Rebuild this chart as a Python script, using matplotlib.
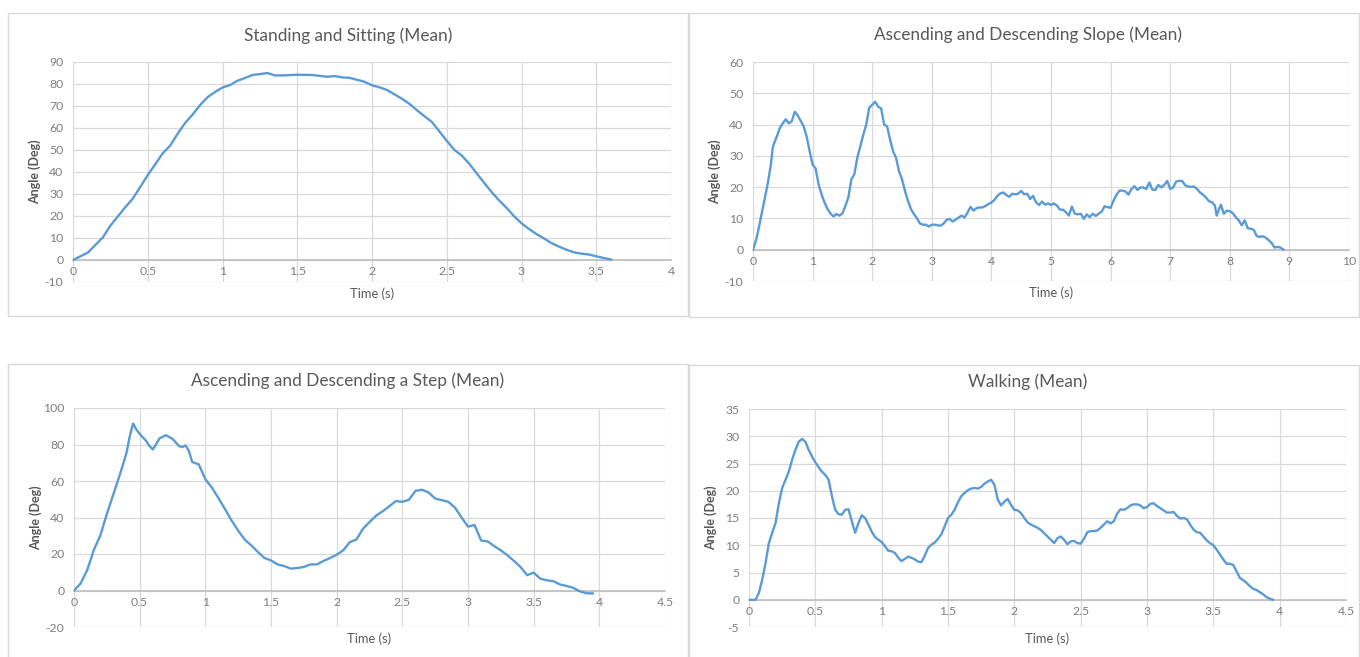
import matplotlib
matplotlib.use("Agg")
import matplotlib.pyplot as plt
from matplotlib.patches import Rectangle

plt.rcParams['font.family'] = ['Lato', 'DejaVu Sans']

# ---- Standing and Sitting ----
sit_t = [0, 0.1, 0.2, 0.25, 0.3, 0.35, 0.4, 0.45, 0.5, 0.55, 0.6, 0.65, 0.7, 0.75, 0.8,
         0.85, 0.9, 0.95, 1.0, 1.05, 1.1, 1.15, 1.2, 1.25, 1.3, 1.35, 1.4, 1.5, 1.6, 1.7,
         1.75, 1.8, 1.85, 1.9, 1.95, 2.0, 2.05, 2.1, 2.15, 2.2, 2.25, 2.3, 2.35, 2.4, 2.45,
         2.5, 2.55, 2.6, 2.65, 2.7, 2.75, 2.8, 2.85, 2.9, 2.95, 3.0, 3.05, 3.1, 3.15, 3.2,
         3.25, 3.3, 3.35, 3.4, 3.45, 3.5, 3.55, 3.6]
sit_deg = [0, 3.4, 10.3, 15.6, 19.8, 24.0, 27.9, 33.2, 38.6, 43.5, 48.5, 52.0, 57.4, 62.3, 66.1,
           70.4, 74.0, 76.4, 78.4, 79.5, 81.5, 82.7, 84.1, 84.5, 85.0, 83.9, 83.9, 84.2, 84.1, 83.3,
           83.6, 83.0, 82.8, 81.9, 81.0, 79.4, 78.5, 77.3, 75.3, 73.3, 71.0, 68.1, 65.4, 62.8, 58.5,
           54.2, 50.1, 47.5, 43.8, 39.4, 35.1, 30.9, 27.1, 23.7, 19.9, 16.7, 14.1, 11.8, 9.8, 7.7,
           6.1, 4.7, 3.5, 2.9, 2.5, 1.7, 0.9, 0.2]

# ---- Ascending and Descending Slope ----
slope_t = [0, 0.05, 0.1, 0.15, 0.2, 0.25, 0.3, 0.33, 0.35, 0.4, 0.45, 0.5, 0.55, 0.6, 0.65,
           0.7, 0.75, 0.8, 0.85, 0.9, 0.95, 1.0, 1.05, 1.1, 1.15, 1.2, 1.25, 1.3, 1.35, 1.4,
           1.45, 1.5, 1.55, 1.6, 1.65, 1.7, 1.75, 1.8, 1.85, 1.9, 1.95, 2.0, 2.05, 2.1, 2.15,
           2.2, 2.25, 2.3, 2.35, 2.4, 2.45, 2.5, 2.55, 2.6, 2.65, 2.7, 2.75, 2.8, 2.85, 2.9,
           2.95, 3.0, 3.05, 3.1, 3.15, 3.2, 3.25, 3.3, 3.35, 3.4, 3.45, 3.5, 3.55, 3.6, 3.65,
           3.7, 3.75, 3.8, 3.85, 3.9, 3.95, 4.0, 4.05, 4.1, 4.15, 4.2, 4.25, 4.3, 4.35, 4.4,
           4.45, 4.5, 4.55, 4.6, 4.65, 4.7, 4.75, 4.8, 4.85, 4.9, 4.95, 5.0, 5.05, 5.1, 5.15,
           5.2, 5.25, 5.3, 5.35, 5.4, 5.45, 5.5, 5.55, 5.6, 5.65, 5.7, 5.75, 5.8, 5.85, 5.9,
           5.95, 6.0, 6.05, 6.1, 6.15, 6.2, 6.25, 6.3, 6.35, 6.4, 6.45, 6.5, 6.55, 6.6, 6.65,
           6.7, 6.75, 6.8, 6.85, 6.9, 6.95, 7.0, 7.05, 7.1, 7.15, 7.2, 7.25, 7.3, 7.35, 7.4,
           7.45, 7.5, 7.55, 7.6, 7.65, 7.7, 7.75, 7.78, 7.82, 7.85, 7.9, 7.95, 8.0, 8.05, 8.1,
           8.15, 8.2, 8.25, 8.3, 8.35, 8.4, 8.45, 8.5, 8.55, 8.6, 8.65, 8.7, 8.75, 8.8, 8.85,
           8.9]
slope_deg = [0, 3.0, 7.2, 11.9, 16.7, 21.4, 27.2, 32.5, 33.8, 36.2, 38.9, 40.4, 41.7, 40.4, 41.0,
             44.1, 42.9, 41.2, 39.4, 36.2, 31.5, 27.2, 26.0, 20.9, 17.7, 15.1, 13.0, 11.6, 10.6, 11.4,
             10.9, 11.6, 14.0, 16.7, 22.5, 24.1, 29.4, 33.0, 36.7, 40.0, 45.4, 46.3, 47.3, 45.7, 45.2,
             40.0, 39.4, 35.2, 31.5, 29.4, 25.1, 22.5, 18.8, 15.6, 13.0, 11.4, 10.1, 8.4, 8.0, 8.0,
             7.4, 8.0, 8.0, 7.8, 7.7, 8.4, 9.6, 9.8, 9.0, 9.6, 10.3, 10.9, 10.3, 11.9, 13.7,
             12.5, 13.3, 13.5, 13.5, 14.0, 14.6, 15.1, 15.9, 17.2, 18.0, 18.3, 17.5, 16.9, 17.9, 17.7,
             17.9, 18.8, 17.7, 17.9, 16.2, 17.2, 15.1, 14.3, 15.4, 14.4, 14.8, 14.3, 14.8, 14.1, 12.8,
             12.8, 12.0, 10.9, 13.8, 11.5, 11.3, 11.5, 9.9, 11.3, 10.4, 11.5, 10.8, 11.5, 12.2, 13.9,
             13.6, 13.4, 15.7, 17.6, 18.9, 18.9, 18.6, 17.6, 19.4, 20.3, 19.1, 19.9, 19.9, 19.4, 21.5,
             19.2, 19.1, 20.7, 19.9, 20.7, 22.0, 19.4, 19.9, 21.8, 22.0, 22.0, 20.6, 20.2, 20.1, 20.2,
             19.4, 18.3, 17.6, 16.7, 15.5, 15.2, 14.1, 10.9, 13.0, 14.4, 11.5, 12.5, 12.3, 11.7, 10.4,
             9.4, 7.8, 9.4, 6.9, 6.7, 6.4, 4.4, 4.1, 4.3, 3.9, 3.1, 2.2, 0.7, 0.9, 0.7,
             0]

# ---- Ascending and Descending a Step ----
step_t = [0, 0.05, 0.1, 0.15, 0.2, 0.25, 0.3, 0.35, 0.4, 0.425, 0.45, 0.475, 0.5, 0.55, 0.575,
          0.6, 0.625, 0.65, 0.7, 0.75, 0.8, 0.825, 0.85, 0.875, 0.9, 0.95, 1.0, 1.05, 1.1, 1.15,
          1.2, 1.25, 1.3, 1.35, 1.4, 1.45, 1.5, 1.55, 1.6, 1.65, 1.7, 1.75, 1.8, 1.85, 1.9,
          1.95, 2.0, 2.05, 2.1, 2.15, 2.2, 2.25, 2.3, 2.35, 2.4, 2.45, 2.5, 2.55, 2.6, 2.65,
          2.7, 2.75, 2.8, 2.85, 2.9, 2.95, 3.0, 3.05, 3.1, 3.15, 3.2, 3.25, 3.3, 3.35, 3.4,
          3.45, 3.5, 3.55, 3.6, 3.65, 3.7, 3.75, 3.8, 3.85, 3.9, 3.95]
step_deg = [0, 3.8, 11.1, 22.0, 30.1, 41.9, 52.8, 63.7, 75.5, 84.6, 91.5, 88.2, 85.8, 81.9, 79.1,
            77.3, 80.0, 83.3, 85.1, 83.1, 79.1, 78.6, 79.5, 76.4, 70.4, 69.1, 61.0, 56.4, 50.6, 44.6,
            38.3, 32.8, 27.9, 24.7, 21.1, 17.8, 16.5, 14.3, 13.4, 12.0, 12.3, 12.9, 14.3, 14.3, 16.2,
            17.8, 19.6, 22.0, 26.5, 27.9, 33.8, 37.5, 41.0, 43.4, 46.1, 49.0, 48.6, 49.7, 54.6, 55.2,
            53.7, 50.4, 49.5, 48.6, 45.5, 40.1, 35.0, 35.9, 27.4, 26.9, 24.3, 22.0, 19.3, 16.2, 12.9,
            8.4, 9.8, 6.5, 5.6, 5.1, 3.3, 2.5, 1.5, -0.4, -1.5, -1.6]

# ---- Walking ----
walk_t = [0, 0.05, 0.075, 0.1, 0.125, 0.15, 0.175, 0.2, 0.225, 0.25, 0.275, 0.3, 0.325, 0.35, 0.375,
          0.4, 0.425, 0.45, 0.475, 0.5, 0.525, 0.55, 0.575, 0.6, 0.625, 0.65, 0.675, 0.7, 0.725, 0.75,
          0.775, 0.8, 0.825, 0.85, 0.875, 0.9, 0.925, 0.95, 0.975, 1.0, 1.025, 1.05, 1.075, 1.1, 1.125,
          1.15, 1.175, 1.2, 1.225, 1.25, 1.275, 1.3, 1.325, 1.35, 1.375, 1.4, 1.425, 1.45, 1.475, 1.5,
          1.525, 1.55, 1.575, 1.6, 1.625, 1.65, 1.675, 1.7, 1.725, 1.75, 1.775, 1.8, 1.825, 1.85, 1.875,
          1.9, 1.925, 1.95, 1.975, 2.0, 2.025, 2.05, 2.075, 2.1, 2.125, 2.15, 2.175, 2.2, 2.25, 2.3,
          2.325, 2.35, 2.375, 2.4, 2.425, 2.45, 2.475, 2.5, 2.525, 2.55, 2.575, 2.6, 2.625, 2.65, 2.675,
          2.7, 2.725, 2.75, 2.775, 2.8, 2.825, 2.85, 2.875, 2.9, 2.925, 2.95, 2.975, 3.0, 3.025, 3.05,
          3.075, 3.1, 3.125, 3.15, 3.175, 3.2, 3.225, 3.25, 3.275, 3.3, 3.325, 3.35, 3.375, 3.4, 3.425,
          3.45, 3.475, 3.5, 3.525, 3.55, 3.575, 3.6, 3.625, 3.65, 3.675, 3.7, 3.725, 3.75, 3.775, 3.8,
          3.825, 3.85, 3.875, 3.9, 3.925, 3.95]
walk_deg = [0, 0, 1.3, 3.7, 6.8, 10.4, 12.3, 14.1, 17.7, 20.5, 22.0, 23.5, 25.7, 27.5, 29.0,
            29.5, 29.0, 27.5, 26.3, 25.2, 24.3, 23.5, 22.9, 22.0, 19.0, 16.5, 15.7, 15.6, 16.5, 16.6,
            14.4, 12.3, 14.1, 15.5, 15.0, 13.8, 12.5, 11.5, 11.0, 10.6, 9.8, 9.0, 8.9, 8.6, 7.7,
            7.1, 7.5, 7.9, 7.7, 7.4, 7.0, 6.9, 8.1, 9.5, 10.1, 10.5, 11.2, 12.0, 13.5, 15.0,
            15.6, 16.5, 17.9, 19.0, 19.6, 20.1, 20.4, 20.5, 20.4, 20.7, 21.3, 21.7, 22.0, 21.1, 18.4,
            17.3, 18.0, 18.5, 17.4, 16.5, 16.4, 15.9, 15.0, 14.2, 13.8, 13.5, 13.2, 12.8, 11.6, 10.4,
            11.3, 11.6, 11.0, 10.2, 10.7, 10.8, 10.4, 10.3, 11.2, 12.4, 12.6, 12.6, 12.7, 13.2, 13.8,
            14.4, 14.0, 14.4, 15.8, 16.6, 16.5, 16.8, 17.3, 17.5, 17.5, 17.3, 16.8, 17.0, 17.6, 17.7,
            17.2, 16.8, 16.4, 16.0, 16.0, 16.1, 15.4, 14.9, 15.0, 14.8, 13.8, 12.9, 12.4, 12.3, 11.6,
            10.9, 10.4, 10.0, 9.2, 8.3, 7.4, 6.6, 6.6, 6.4, 5.2, 4.0, 3.6, 3.1, 2.5, 2.0,
            1.8, 1.4, 1.0, 0.5, 0.2, 0]

titles = ["Standing and Sitting (Mean)", "Ascending and Descending Slope (Mean)",
          "Ascending and Descending a Step (Mean)", "Walking (Mean)"]
x_ticks = [[0, 0.5, 1, 1.5, 2, 2.5, 3, 3.5, 4],
           [0, 1, 2, 3, 4, 5, 6, 7, 8, 9, 10],
           [0, 0.5, 1, 1.5, 2, 2.5, 3, 3.5, 4, 4.5],
           [0, 0.5, 1, 1.5, 2, 2.5, 3, 3.5, 4, 4.5]]
y_ticks = [list(range(-10, 91, 10)),
           list(range(-10, 61, 10)),
           list(range(-20, 101, 20)),
           list(range(-5, 36, 5))]
series = [(sit_t, sit_deg), (slope_t, slope_deg), (step_t, step_deg), (walk_t, walk_deg)]

W, H = 1360, 657
fig = plt.figure(figsize=(W / 100, H / 100), dpi=100)

# plot areas (pixel boxes: left, top, right, bottom) and chart frames
plot_boxes = [(73, 62, 671, 282), (753, 62, 1349, 281), (74, 408, 665, 627), (749, 409, 1346, 627)]
frames = [(8, 13, 688, 316), (689, 13, 1359, 317), (8, 364, 688, 660), (689, 365, 1359, 660)]
title_pos = [(348, 36), (1028, 35), (348, 381), (1028, 382)]

LINE = '#5B9BD5'
GRID = '#D9D9D9'
TEXT = '#595959'
TICK = '#7F7F7F'

def fmt(v):
    return ('%g' % v)

for i in range(4):
    fl, ft, fr, fb = frames[i]
    fig.patches.append(Rectangle((fl / W, 1 - fb / H), (fr - fl) / W, (fb - ft) / H,
                                 transform=fig.transFigure, fill=False,
                                 edgecolor=GRID, linewidth=1.0))
    l, t, r, b = plot_boxes[i]
    ax = fig.add_axes([l / W, 1 - b / H, (r - l) / W, (b - t) / H])
    xs, ys = series[i]
    ax.plot(xs, ys, color=LINE, linewidth=1.7, solid_joinstyle='round', zorder=3)
    ax.set_xlim(x_ticks[i][0], x_ticks[i][-1])
    ax.set_ylim(y_ticks[i][0], y_ticks[i][-1])
    ax.set_xticks(x_ticks[i])
    ax.set_yticks(y_ticks[i])
    ax.set_xticklabels([fmt(v) for v in x_ticks[i]])
    ax.set_yticklabels([fmt(v) for v in y_ticks[i]])
    ax.grid(True, color=GRID, linewidth=0.9)
    ax.set_axisbelow(True)
    for s in ['top', 'right', 'left']:
        ax.spines[s].set_visible(False)
    ax.spines['bottom'].set_position(('data', 0))
    ax.spines['bottom'].set_color('#BFBFBF')
    ax.spines['bottom'].set_linewidth(1.2)
    ax.tick_params(axis='both', length=0, labelsize=8.8, labelcolor=TICK)
    ax.tick_params(axis='y', pad=7)
    ax.tick_params(axis='x', pad=4.5)
    ax.annotate("Time (s)", xy=(0.5, 0), xycoords='axes fraction', xytext=(0, -12),
                textcoords='offset pixels', ha='center', va='center', fontsize=9.3, color=TEXT)
    ax.annotate("Angle (Deg)", xy=(0, 0.5), xycoords='axes fraction', xytext=(-38, 0),
                textcoords='offset pixels', ha='center', va='center', rotation=90,
                fontsize=9, color=TEXT, fontweight='bold')
    tx, ty = title_pos[i]
    fig.text(tx / W, 1 - ty / H, titles[i], ha='center', va='center', fontsize=12.4, color=TEXT)

fig.savefig("out.png", dpi=100, facecolor='white')
